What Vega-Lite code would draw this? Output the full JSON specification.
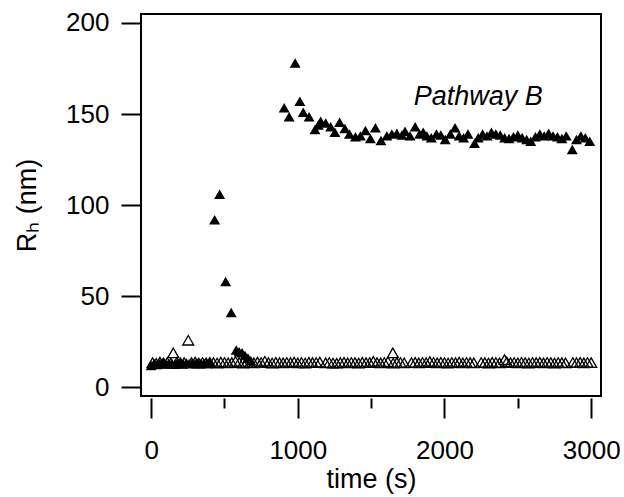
{
  "$schema": "https://vega.github.io/schema/vega-lite/v6.json",
  "width": 460,
  "height": 382,
  "autosize": "none",
  "padding": {"left": 141, "top": 14, "right": 23, "bottom": 101},
  "background": "white",
  "config": {
    "view": {"stroke": "black", "strokeWidth": 2},
    "axis": {
      "labelFont": "Liberation Sans",
      "titleFont": "Liberation Sans",
      "labelFontSize": 26,
      "titleFontSize": 27,
      "labelColor": "black",
      "titleColor": "black",
      "titleFontWeight": "normal",
      "tickColor": "black",
      "tickWidth": 2,
      "domain": false,
      "grid": false
    }
  },
  "datasets": {
    "pathB": [
      {"t": 0, "v": 12}, {"t": 20, "v": 13}, {"t": 40, "v": 12.5}, {"t": 60, "v": 13}, {"t": 80, "v": 13.5},
      {"t": 100, "v": 12.8}, {"t": 120, "v": 13.2}, {"t": 140, "v": 13}, {"t": 160, "v": 12.6}, {"t": 180, "v": 13.4},
      {"t": 200, "v": 13}, {"t": 220, "v": 12.8}, {"t": 240, "v": 13.5}, {"t": 260, "v": 13}, {"t": 280, "v": 13.2},
      {"t": 300, "v": 12.9}, {"t": 320, "v": 13.4}, {"t": 340, "v": 13.1}, {"t": 360, "v": 13.3}, {"t": 380, "v": 13},
      {"t": 400, "v": 13.5}, {"t": 433, "v": 92}, {"t": 467, "v": 106}, {"t": 508, "v": 58}, {"t": 546, "v": 41},
      {"t": 580, "v": 20.5}, {"t": 600, "v": 19.5}, {"t": 620, "v": 19}, {"t": 640, "v": 17.5}, {"t": 660, "v": 16}, {"t": 680, "v": 14.5},
      {"t": 907, "v": 153.5}, {"t": 941, "v": 148.5}, {"t": 982, "v": 178}, {"t": 1014, "v": 157}, {"t": 1037, "v": 151},
      {"t": 1077, "v": 148.5}, {"t": 1117, "v": 141.5}, {"t": 1140, "v": 144}, {"t": 1156, "v": 146}, {"t": 1190, "v": 145},
      {"t": 1224, "v": 143}, {"t": 1253, "v": 140}, {"t": 1285, "v": 145.5}, {"t": 1321, "v": 142}, {"t": 1352, "v": 139},
      {"t": 1393, "v": 137.5}, {"t": 1427, "v": 138}, {"t": 1461, "v": 141}, {"t": 1495, "v": 136.5}, {"t": 1529, "v": 142.5},
      {"t": 1567, "v": 135.5}, {"t": 1607, "v": 138}, {"t": 1641, "v": 139}, {"t": 1675, "v": 139.5}, {"t": 1710, "v": 138.5},
      {"t": 1731, "v": 140.5}, {"t": 1765, "v": 138}, {"t": 1800, "v": 143}, {"t": 1830, "v": 139}, {"t": 1855, "v": 140},
      {"t": 1880, "v": 138}, {"t": 1910, "v": 137}, {"t": 1945, "v": 139}, {"t": 1975, "v": 138.5}, {"t": 2005, "v": 136},
      {"t": 2040, "v": 139}, {"t": 2072, "v": 142.5}, {"t": 2100, "v": 138}, {"t": 2130, "v": 137}, {"t": 2160, "v": 139},
      {"t": 2205, "v": 134}, {"t": 2230, "v": 137}, {"t": 2260, "v": 139}, {"t": 2290, "v": 138}, {"t": 2320, "v": 140},
      {"t": 2350, "v": 139}, {"t": 2380, "v": 138.5}, {"t": 2410, "v": 137}, {"t": 2440, "v": 136.5}, {"t": 2470, "v": 137.5},
      {"t": 2500, "v": 138.5}, {"t": 2530, "v": 137}, {"t": 2560, "v": 136}, {"t": 2588, "v": 135}, {"t": 2620, "v": 137.5},
      {"t": 2650, "v": 139}, {"t": 2680, "v": 138}, {"t": 2710, "v": 139.5}, {"t": 2740, "v": 138}, {"t": 2770, "v": 137.5},
      {"t": 2800, "v": 136.5}, {"t": 2830, "v": 138}, {"t": 2871, "v": 130.5}, {"t": 2900, "v": 136}, {"t": 2930, "v": 138},
      {"t": 2960, "v": 137}, {"t": 2990, "v": 135}
    ],
    "ctrl": [
      {"t": 10, "v": 13.5}, {"t": 35, "v": 13.2}, {"t": 60, "v": 13.8}, {"t": 85, "v": 13.4}, {"t": 110, "v": 13.6},
      {"t": 135, "v": 13.3}, {"t": 151, "v": 18.9}, {"t": 175, "v": 13.7}, {"t": 200, "v": 13.4}, {"t": 225, "v": 13.6},
      {"t": 253, "v": 25.8}, {"t": 275, "v": 13.5}, {"t": 300, "v": 13.8}, {"t": 325, "v": 13.3}, {"t": 350, "v": 13.6},
      {"t": 375, "v": 13.4}, {"t": 400, "v": 13.7}, {"t": 425, "v": 13.5}, {"t": 450, "v": 13.3}, {"t": 475, "v": 13.8},
      {"t": 500, "v": 13.6}, {"t": 525, "v": 13.4}, {"t": 550, "v": 13.5}, {"t": 575, "v": 14.2}, {"t": 600, "v": 13.6},
      {"t": 625, "v": 13.3}, {"t": 650, "v": 13.7}, {"t": 675, "v": 13.5}, {"t": 700, "v": 13.4}, {"t": 725, "v": 13.8},
      {"t": 750, "v": 13.6}, {"t": 775, "v": 14.3}, {"t": 800, "v": 13.5}, {"t": 825, "v": 13.3}, {"t": 850, "v": 13.7},
      {"t": 875, "v": 13.5}, {"t": 900, "v": 13.4}, {"t": 925, "v": 13.6}, {"t": 950, "v": 13.5}, {"t": 975, "v": 13.8},
      {"t": 1000, "v": 13.4}, {"t": 1025, "v": 13.6}, {"t": 1050, "v": 13.3}, {"t": 1075, "v": 13.7}, {"t": 1100, "v": 13.5},
      {"t": 1125, "v": 13.6}, {"t": 1150, "v": 13.8},
      {"t": 1190, "v": 13.4}, {"t": 1215, "v": 13.6}, {"t": 1240, "v": 13.3}, {"t": 1265, "v": 13.2}, {"t": 1290, "v": 13.5},
      {"t": 1315, "v": 13.7}, {"t": 1340, "v": 13.4}, {"t": 1365, "v": 13.6}, {"t": 1390, "v": 13.5}, {"t": 1415, "v": 13.3},
      {"t": 1440, "v": 13.7}, {"t": 1465, "v": 13.5}, {"t": 1490, "v": 13.6}, {"t": 1515, "v": 14.2}, {"t": 1540, "v": 13.5},
      {"t": 1565, "v": 13.4}, {"t": 1590, "v": 13.6}, {"t": 1615, "v": 14}, {"t": 1648, "v": 18.9}, {"t": 1650, "v": 13.2},
      {"t": 1675, "v": 13.5}, {"t": 1700, "v": 13.6}, {"t": 1725, "v": 13.4},
      {"t": 1775, "v": 13.5}, {"t": 1800, "v": 13.7}, {"t": 1825, "v": 13.4}, {"t": 1850, "v": 13.6}, {"t": 1875, "v": 13.5},
      {"t": 1900, "v": 14.1}, {"t": 1925, "v": 13.6}, {"t": 1950, "v": 13.4}, {"t": 1975, "v": 13.7}, {"t": 2000, "v": 13.5},
      {"t": 2025, "v": 13.3}, {"t": 2050, "v": 13.6}, {"t": 2075, "v": 13.5}, {"t": 2100, "v": 13.8}, {"t": 2125, "v": 13.4},
      {"t": 2150, "v": 13.6}, {"t": 2175, "v": 13.5}, {"t": 2200, "v": 13.4},
      {"t": 2250, "v": 13.6}, {"t": 2275, "v": 13.5}, {"t": 2300, "v": 13.3}, {"t": 2325, "v": 13.7}, {"t": 2350, "v": 13.6},
      {"t": 2375, "v": 13.4}, {"t": 2409, "v": 15.2}, {"t": 2425, "v": 14}, {"t": 2450, "v": 13.5}, {"t": 2475, "v": 13.6},
      {"t": 2500, "v": 13.4}, {"t": 2525, "v": 13.7}, {"t": 2550, "v": 13.5}, {"t": 2575, "v": 13.3}, {"t": 2600, "v": 13.6},
      {"t": 2625, "v": 13.5}, {"t": 2650, "v": 13.7}, {"t": 2675, "v": 13.4}, {"t": 2700, "v": 13.6}, {"t": 2725, "v": 13.5},
      {"t": 2750, "v": 13.3}, {"t": 2775, "v": 13.6}, {"t": 2800, "v": 13.5}, {"t": 2825, "v": 13.4},
      {"t": 2875, "v": 13.6}, {"t": 2900, "v": 13.5}, {"t": 2925, "v": 13.7}, {"t": 2950, "v": 13.4}, {"t": 2975, "v": 13.6},
      {"t": 3000, "v": 13.5}
    ],
    "labels": [{"t": 2230, "v": 154.8, "text": "Pathway B"}]
  },
  "encoding": {
    "x": {
      "field": "t", "type": "quantitative",
      "scale": {"domain": [-69, 3067], "nice": false, "zero": false},
      "axis": {
        "title": "time (s)",
        "values": [0, 500, 1000, 1500, 2000, 2500, 3000],
        "format": "d",
        "labelExpr": "datum.value % 1000 === 0 ? datum.label : ''",
        "tickSize": {"condition": {"test": "datum.value % 1000 === 0", "value": 20}, "value": 10},
        "offset": 2,
        "labelPadding": 19,
        "titlePadding": 3
      }
    },
    "y": {
      "field": "v", "type": "quantitative",
      "scale": {"domain": [-4.8, 204.9], "nice": false, "zero": false},
      "axis": {
        "title": "Rₕ (nm)",
        "values": [0, 50, 100, 150, 200],
        "tickSize": 20,
        "labelPadding": 12,
        "titlePadding": 24
      }
    }
  },
  "layer": [
    {
      "data": {"name": "ctrl"},
      "mark": {"type": "point", "shape": "triangle-up", "filled": false, "size": 120, "stroke": "black", "strokeWidth": 1.3, "fill": "white", "fillOpacity": 0, "opacity": 1}
    },
    {
      "data": {"name": "pathB"},
      "mark": {"type": "point", "shape": "triangle-up", "filled": true, "size": 120, "color": "black", "opacity": 1}
    },
    {
      "data": {"name": "labels"},
      "mark": {"type": "text", "font": "Liberation Sans", "fontStyle": "italic", "fontSize": 27, "align": "center", "baseline": "alphabetic", "color": "black"},
      "encoding": {"text": {"field": "text"}}
    }
  ]
}
